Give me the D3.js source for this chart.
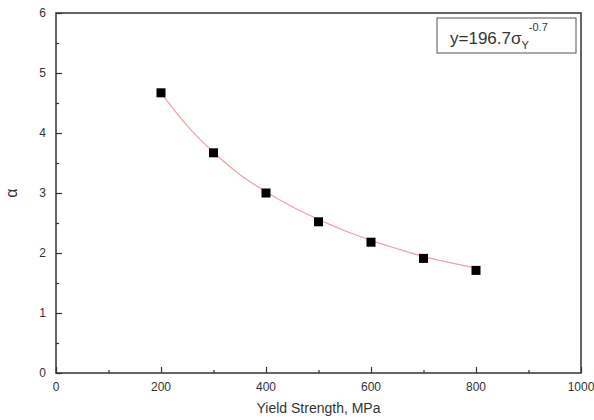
<!DOCTYPE html>
<html>
<head>
<meta charset="utf-8">
<script src="https://cdn.jsdelivr.net/npm/d3@7"></script>
<style>
  body { margin: 0; background: #fff; }
  text { font-family: "Liberation Sans", Arial, sans-serif; fill: #333; }
</style>
</head>
<body>
<svg width="594" height="420"></svg>
<script>
// Measured points (yield strength, alpha).
const strength = [200, 300, 400, 500, 600, 700, 800];
const alpha = [4.67, 3.67, 3.0, 2.52, 2.18, 1.91, 1.71];

// Fitted curve.
const fitX = [200, 250, 300, 350, 400, 450, 500, 550, 600, 650, 700, 750, 800];
const fitY = [4.67, 4.12, 3.68, 3.31, 3.02, 2.77, 2.56, 2.37, 2.21, 2.07, 1.94, 1.84, 1.75];

const xTicks = [0, 200, 400, 600, 800, 1000];
const yTicks = [0, 1, 2, 3, 4, 5, 6];

const margin = { left: 56, right: 13, top: 13, bottom: 47 };
const width = 594, height = 420;

const svg = d3.select("svg");

const x = d3.scaleLinear().domain([0, 1000]).range([margin.left, width - margin.right]);
const y = d3.scaleLinear().domain([0, 6]).range([height - margin.bottom, margin.top]);

// Frame.
svg.append("rect")
  .attr("x", x(0)).attr("y", y(6))
  .attr("width", x(1000) - x(0)).attr("height", y(0) - y(6))
  .attr("fill", "none").attr("stroke", "#333").attr("stroke-width", 1.5);

// Bottom axis: major ticks inward, minor in between.
const xAxis = svg.append("g").attr("transform", `translate(0,${y(0)})`);
xAxis.call(d3.axisTop(x).tickValues(d3.range(100, 1000, 200)).tickSize(3).tickFormat(""));
xAxis.append("g").call(d3.axisTop(x).tickValues(xTicks).tickSize(6).tickFormat(""));
xAxis.selectAll(".domain").remove();
xAxis.selectAll("line").attr("stroke", "#333").attr("stroke-width", 1.2);
svg.selectAll(".xlab").data(xTicks).join("text")
  .attr("class", "xlab")
  .attr("x", (d) => x(d)).attr("y", y(0) + 18)
  .attr("text-anchor", "middle").attr("font-size", 12)
  .text((d) => d);

// Left axis.
const yAxis = svg.append("g").attr("transform", `translate(${x(0)},0)`);
yAxis.call(d3.axisRight(y).tickValues(d3.range(0.5, 6, 1)).tickSize(3).tickFormat(""));
yAxis.append("g").call(d3.axisRight(y).tickValues(yTicks).tickSize(6).tickFormat(""));
yAxis.selectAll(".domain").remove();
yAxis.selectAll("line").attr("stroke", "#333").attr("stroke-width", 1.2);
svg.selectAll(".ylab").data(yTicks).join("text")
  .attr("class", "ylab")
  .attr("x", x(0) - 10).attr("y", (d) => y(d) + 4)
  .attr("text-anchor", "end").attr("font-size", 12)
  .text((d) => d);

// Axis titles.
svg.append("text")
  .attr("x", (x(0) + x(1000)) / 2).attr("y", 413)
  .attr("text-anchor", "middle").attr("font-size", 14)
  .text("Yield Strength, MPa");
svg.append("text")
  .attr("transform", `translate(17,${y(3)}) rotate(-90)`)
  .attr("text-anchor", "middle").attr("font-size", 16)
  .text("α");

// Fit line.
svg.append("path")
  .datum(fitX.map((d, i) => [d, fitY[i]]))
  .attr("fill", "none").attr("stroke", "#f0a0a8").attr("stroke-width", 1.2)
  .attr("d", d3.line().x((d) => x(d[0])).y((d) => y(d[1])).curve(d3.curveMonotoneX));

// Square markers.
const s = 9;
svg.selectAll(".pt").data(strength).join("rect")
  .attr("class", "pt")
  .attr("x", (d) => x(d) - s / 2)
  .attr("y", (d, i) => y(alpha[i]) - s / 2)
  .attr("width", s).attr("height", s)
  .attr("fill", "#000");

// Equation box.
svg.append("rect")
  .attr("x", 437).attr("y", 18).attr("width", 139).attr("height", 35)
  .attr("fill", "#fff").attr("stroke", "#555").attr("stroke-width", 1);
const eq = svg.append("text").attr("x", 450).attr("y", 44).attr("font-size", 17);
eq.append("tspan").text("y=196.7σ");
eq.append("tspan").attr("font-size", 11).attr("dy", 5).text("Y");
eq.append("tspan").attr("font-size", 11).attr("dy", -18).attr("dx", 1).text("-0.7");
</script>
</body>
</html>
